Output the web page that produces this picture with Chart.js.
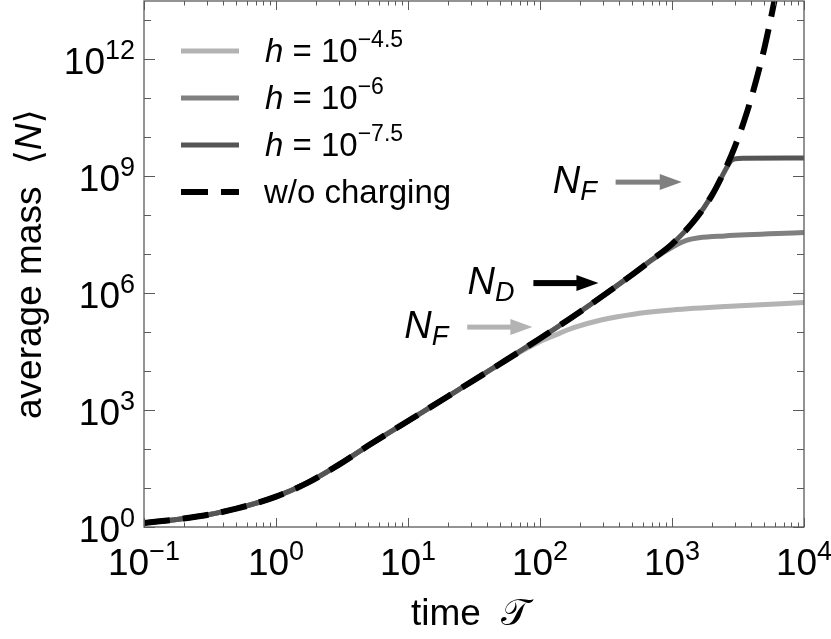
<!DOCTYPE html>
<html><head><meta charset="utf-8">
<script src="https://cdn.jsdelivr.net/npm/chart.js@4.4.1/dist/chart.umd.min.js"></script>
<style>html,body{margin:0;padding:0;background:#fff;}#wrap{width:831px;height:639px;}</style>
</head><body><div id="wrap"><canvas id="c" width="831" height="639"></canvas></div>
<script>
// ---- data ----
const timeDash = [0.1,0.2,0.3,0.5,1,1.7,3,5,10,20,50,100,200,500,700,1000,1500,2000,2500,3000,3500,4000,5000,6000,7000];
const massDash = [1.26,1.66,2.04,2.95,6.0,13.2,40,123,525,2240,15500,6.9e4,3.3e5,3.0e6,7.1e6,1.82e7,7.8e7,3.2e8,1.4e9,5.9e9,2.5e10,1.07e11,1.9e12,3.5e13,6e14];

const timeH45 = [0.1,0.2,0.3,0.5,1,1.7,3,5,10,20,50,80,100,130,180,290,510,1000,3000,10000];
const massH45 = [1.26,1.66,2.04,2.95,6.0,13.2,40,123,525,2240,15500,3.9e4,5.8e4,8.4e4,1.3e5,2.05e5,2.9e5,3.7e5,4.7e5,5.75e5];

const timeH6 = [0.1,0.2,0.3,0.5,1,1.7,3,5,10,20,50,100,200,500,700,850,1000,1100,1300,1600,2500,10000];
const massH6 = [1.26,1.66,2.04,2.95,6.0,13.2,40,123,525,2240,15500,6.9e4,3.3e5,3.0e6,7.1e6,1.08e7,1.5e7,1.8e7,2.3e7,2.65e7,2.95e7,3.6e7];

const timeH75 = [0.1,0.2,0.3,0.5,1,1.7,3,5,10,20,50,100,200,500,700,1000,1500,2000,2500,2650,2800,3000,3500,10000];
const massH75 = [1.26,1.66,2.04,2.95,6.0,13.2,40,123,525,2240,15500,6.9e4,3.3e5,3.0e6,7.1e6,1.82e7,7.8e7,3.2e8,1.32e9,1.9e9,2.5e9,2.8e9,2.9e9,2.95e9];

const xTickExps = [-1,0,1,2,3,4];
const yTickExps = [0,3,6,9,12];
const legendExps = ['\u22124.5','\u22126','\u22127.5'];
const legendDashLabel = 'w/o charging';
// annotation arrows in data coordinates: tail time, tip time, mass level
const arrowTail = [28.1, 89.1, 374];
const arrowTip  = [87.5, 277, 1186];
const arrowMass = [1.35e5, 1.82e6, 7.1e8];
const arrowSub  = ['F','D','F'];

const C_LIGHT = '#b3b3b3', C_MID = '#808080', C_DARK = '#555555';
const arrowColors = [C_LIGHT, '#000000', C_MID];
const FONT = '"Liberation Sans", Arimo, Arial, "DejaVu Sans", sans-serif';
function f(size, italic){ return (italic ? 'italic ' : '') + size + 'px ' + FONT; }
function pts(xs, ys){ return xs.map((x,i)=>({x:x, y:ys[i]})); }

function drawRuns(ctx, parts, x, y, align){
  let w = 0;
  parts.forEach(p=>{ ctx.font = f(p.size, p.italic); p.w = ctx.measureText(p.t).width; w += p.w + (p.gap||0); });
  let cx = align==='center' ? x - w/2 : (align==='right' ? x - w : x);
  ctx.textAlign = 'left'; ctx.textBaseline = 'alphabetic';
  parts.forEach(p=>{ ctx.font = f(p.size, p.italic); ctx.fillText(p.t, cx, y + (p.dy||0)); cx += p.w + (p.gap||0); });
  return w;
}
function pow10(e, base, exp, raise){
  return [{t:'10', size:base}, {t:String(e).replace('-', '\u2212'), size:exp, dy:-raise}];
}

const overlay = {
  id:'overlay',
  afterDraw(chart){
    const ctx = chart.ctx, a = chart.chartArea, xs = chart.scales.x, ys = chart.scales.y;
    ctx.save();
    // frame
    ctx.strokeStyle = '#5a5a5a'; ctx.lineWidth = 1.3;
    ctx.strokeRect(a.left, a.top, a.right - a.left, a.bottom - a.top);
    // x ticks
    ctx.lineWidth = 1;
    ctx.beginPath();
    for (let e = -1; e <= 4; e++){
      for (let k = 1; k <= 9; k++){
        const v = k * Math.pow(10, e);
        if (v > 1e4 + 1) break;
        const px = Math.round(xs.getPixelForValue(v)) + 0.5;
        const len = k === 1 ? 9 : 4.5;
        ctx.moveTo(px, a.bottom); ctx.lineTo(px, a.bottom - len);
        ctx.moveTo(px, a.top); ctx.lineTo(px, a.top + len);
      }
    }
    // y ticks
    for (let e = 0; e <= 13; e++){
      const py = Math.round(ys.getPixelForValue(Math.pow(10, e))) + 0.5;
      const len = yTickExps.includes(e) ? 11 : 7;
      ctx.moveTo(a.left, py); ctx.lineTo(a.left + len, py);
      ctx.moveTo(a.right, py); ctx.lineTo(a.right - len, py);
    }
    ctx.stroke();

    ctx.fillStyle = '#000';
    // x tick labels
    xTickExps.forEach(e=>{
      const px = xs.getPixelForValue(Math.pow(10, e));
      drawRuns(ctx, pow10(e, 37, 27, 15), px, 575, 'center');
    });
    // y tick labels
    yTickExps.forEach(e=>{
      const py = ys.getPixelForValue(Math.pow(10, e));
      drawRuns(ctx, pow10(e, 37, 27, 15), a.left - 9, py + 15, 'right');
    });
    // axis titles
    drawRuns(ctx, [{t:'time', size:37}, {t:'\u2003', size:20}, {t:'\uD835\uDCAF', size:37}], (a.left + a.right)/2 - 4, 625, 'center');
    ctx.save();
    ctx.translate(41, (a.top + a.bottom)/2);
    ctx.rotate(-Math.PI/2);
    drawRuns(ctx, [{t:'average mass', size:37}, {t:'\u2003', size:22}, {t:'\u27E8', size:37}, {t:'N', size:37, italic:true}, {t:'\u27E9', size:37}], 0, 0, 'center');
    ctx.restore();

    // legend
    const lx0 = 181, lx1 = 239, rows = [51, 98, 145, 192];
    const lcol = [C_LIGHT, C_MID, C_DARK];
    ctx.lineWidth = 5; ctx.lineCap = 'butt';
    rows.forEach((ry, i)=>{
      ctx.beginPath();
      if (i < 3){ ctx.strokeStyle = lcol[i]; ctx.setLineDash([]); }
      else { ctx.strokeStyle = '#000'; ctx.setLineDash([27, 13]); ctx.lineWidth = 6; }
      ctx.moveTo(lx0, ry); ctx.lineTo(lx1, ry); ctx.stroke();
    });
    ctx.setLineDash([]);
    ctx.fillStyle = '#000';
    legendExps.forEach((ex, i)=>{
      drawRuns(ctx, [{t:'h', size:33, italic:true}, {t:' = 10', size:33}, {t:ex, size:23, dy:-15}], 265, rows[i] + 11, 'left');
    });
    drawRuns(ctx, [{t:legendDashLabel, size:33}], 264, rows[3] + 11, 'left');

    // annotation arrows
    arrowTail.forEach((t0, i)=>{
      const x0 = xs.getPixelForValue(t0), x1 = xs.getPixelForValue(arrowTip[i]);
      const y = ys.getPixelForValue(arrowMass[i]);
      const hl = 22, hw = 8, sw = i === 1 ? 6 : 5;
      ctx.fillStyle = arrowColors[i];
      ctx.fillRect(x0, y - sw/2, x1 - hl - x0 + 1, sw);
      ctx.beginPath(); ctx.moveTo(x1, y); ctx.lineTo(x1 - hl, y - hw); ctx.lineTo(x1 - hl, y + hw); ctx.closePath(); ctx.fill();
      ctx.fillStyle = '#000';
      drawRuns(ctx, [{t:'N', size:38, italic:true}, {t:arrowSub[i], size:27, italic:true, dy:7}], x0 - 19, y + 11, 'right');
    });
    ctx.restore();
  }
};

new Chart(document.getElementById('c').getContext('2d'), {
  type:'line',
  data:{datasets:[
    {label:legendDashLabel, data:pts(timeDash, massDash), borderColor:'#000', borderWidth:6, borderDash:[26,13]},
    {label:'h = 10^-7.5', data:pts(timeH75, massH75), borderColor:C_DARK, borderWidth:5},
    {label:'h = 10^-6', data:pts(timeH6, massH6), borderColor:C_MID, borderWidth:5},
    {label:'h = 10^-4.5', data:pts(timeH45, massH45), borderColor:C_LIGHT, borderWidth:5}
  ]},
  options:{
    responsive:false, animation:false, devicePixelRatio:1,
    layout:{padding:{left:144, right:27, top:1, bottom:112}},
    plugins:{legend:{display:false}, tooltip:{enabled:false}},
    elements:{point:{radius:0}, line:{cubicInterpolationMode:'monotone', borderCapStyle:'butt', borderJoinStyle:'round', fill:false}},
    scales:{
      x:{type:'logarithmic', min:0.1, max:1e4, ticks:{display:false}, grid:{display:false}, border:{display:false}, afterFit(s){ s.height = 0; }},
      y:{type:'logarithmic', min:1, max:3.16e13, ticks:{display:false}, grid:{display:false}, border:{display:false}, afterFit(s){ s.width = 0; }}
    }
  },
  plugins:[overlay]
});
</script>
</body></html>
